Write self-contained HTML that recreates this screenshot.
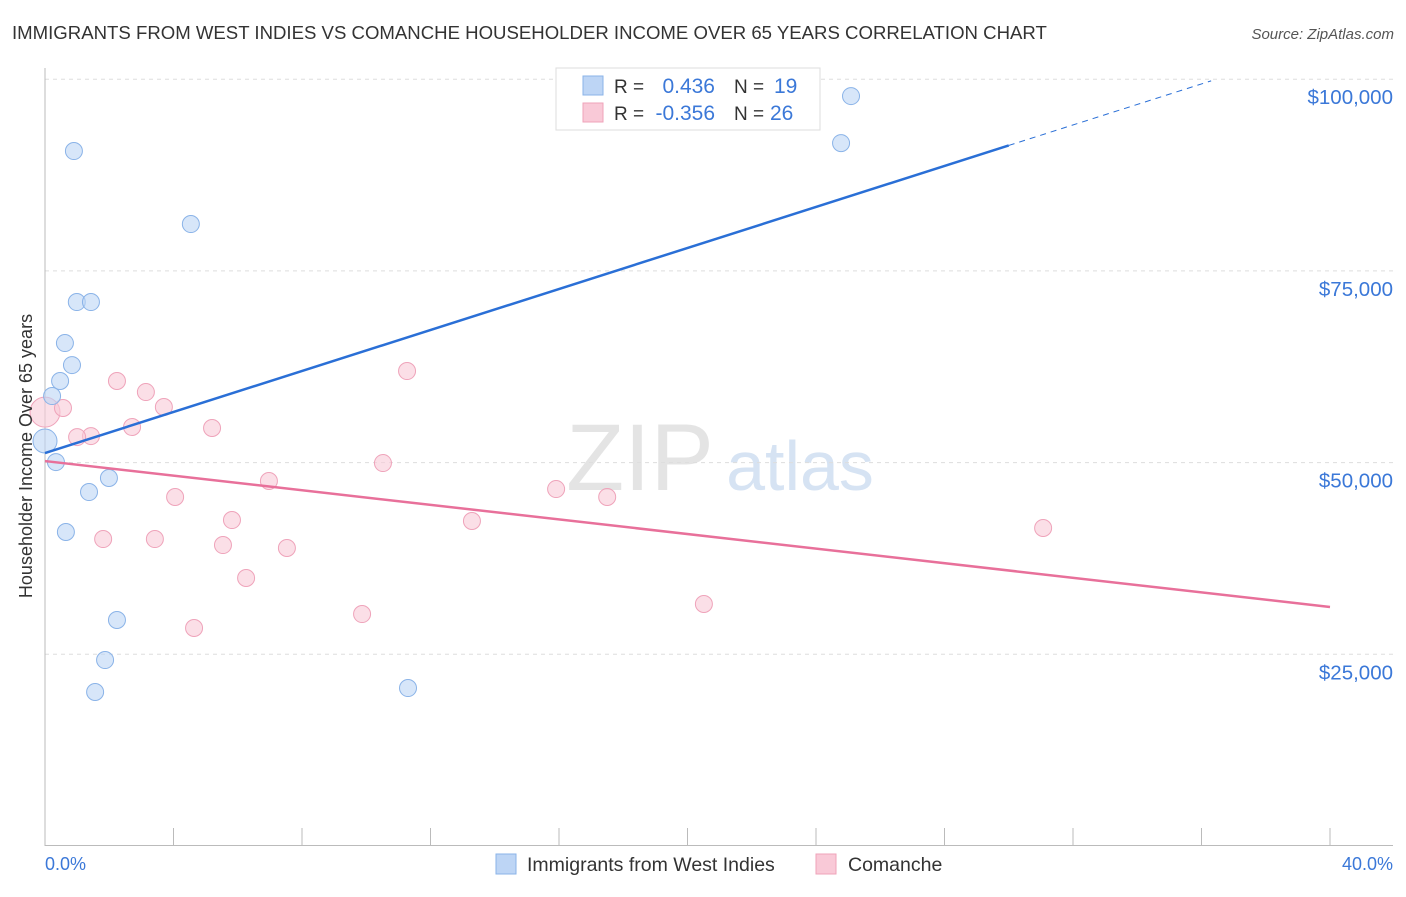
<!DOCTYPE html>
<html><head><meta charset="utf-8"><style>
body{margin:0;background:#fff;font-family:"Liberation Sans",sans-serif;}
svg text{font-family:"Liberation Sans",sans-serif;}
</style></head><body>
<svg id="chart" width="1406" height="892" viewBox="0 0 1406 892">
<text x="12" y="39" font-size="18.6" fill="#333">IMMIGRANTS FROM WEST INDIES VS COMANCHE HOUSEHOLDER INCOME OVER 65 YEARS CORRELATION CHART</text>
<text x="1394" y="39" font-size="15" fill="#555" font-style="italic" text-anchor="end">Source: ZipAtlas.com</text>
<text x="640" y="490" font-size="95" fill="#e4e4e4" font-family="Liberation Serif" text-anchor="middle">ZIP</text>
<text x="800" y="490" font-size="70" fill="#d6e3f3" text-anchor="middle">atlas</text>
<g id="grid"></g>
<g id="axes"></g>
<g id="marks"></g>
<text x="32" y="456" font-size="18" fill="#333" text-anchor="middle" transform="rotate(-90 32 456)">Householder Income Over 65 years</text>
<text x="45" y="870" font-size="18" fill="#3b78d8">0.0%</text>
<text x="1393" y="870" font-size="18" fill="#3b78d8" text-anchor="end">40.0%</text>
<g>
<rect x="556" y="68" width="264" height="62" fill="#fff" stroke="#ddd"/>
<rect x="583" y="76" width="20" height="19" fill="#bdd5f5" stroke="#8ab3e8"/>
<text x="614" y="93" font-size="19" fill="#333">R =</text>
<text x="715" y="93" font-size="21" fill="#3b78d8" text-anchor="end">0.436</text>
<text x="734" y="93" font-size="19" fill="#333">N =</text>
<text x="774" y="93" font-size="21" fill="#3b78d8">19</text>
<rect x="583" y="103" width="20" height="19" fill="#f9c9d7" stroke="#efa3ba"/>
<text x="614" y="120" font-size="19" fill="#333">R =</text>
<text x="715" y="120" font-size="21" fill="#3b78d8" text-anchor="end">-0.356</text>
<text x="734" y="120" font-size="19" fill="#333">N =</text>
<text x="770" y="120" font-size="21" fill="#3b78d8">26</text>
</g>
<g>
<rect x="496" y="854" width="20" height="20" fill="#bdd5f5" stroke="#8ab3e8"/>
<text x="527" y="871" font-size="19.5" fill="#333">Immigrants from West Indies</text>
<rect x="816" y="854" width="20" height="20" fill="#f9c9d7" stroke="#efa3ba"/>
<text x="848" y="871" font-size="19.5" fill="#333">Comanche</text>
</g>
</svg>
<script>
const yTicks=[25000,50000,75000,100000];
const yTickLabels=["$25,000","$50,000","$75,000","$100,000"];
const xTicks=[0,4,8,12,16,20,24,28,32,36,40];
const blueX=[0.90,4.54,0.99,1.43,0.62,0.84,0.47,0.22,0.0,0.34,1.37,1.99,0.65,2.24,1.87,1.56,11.30,25.09,24.78];
const blueY=[90630,81110,70940,70940,65590,62720,60640,58680,52810,50070,46160,47990,40950,29470,24250,20080,20600,97800,91670];
const pinkX=[0,0.56,2.24,3.14,3.70,2.71,1.43,1.0,5.20,4.05,6.97,5.82,1.81,3.42,5.54,7.53,6.26,4.64,9.87,11.27,10.52,13.29,15.91,17.50,20.51,31.07];
const pinkY=[56590,57120,60640,59200,57250,54640,53460,53330,54510,45510,47600,42510,40030,40030,39250,38860,34950,28430,30250,61940,49940,42380,46550,45510,31560,41470];
const blueTrend=[51250,1337];
const pinkTrend=[50200,-475.75];
const NS="http://www.w3.org/2000/svg";
const X=v=>45+v/40*1285;
const Y=v=>846-v/25000*191.7;
function mk(t,a,p){const e=document.createElementNS(NS,t);for(const k in a)e.setAttribute(k,a[k]);document.getElementById(p).appendChild(e);return e;}
yTicks.forEach((t,i)=>{
 const l=mk('line',{x1:45,x2:1393,y1:Y(t),y2:Y(t),stroke:'#ddd','stroke-dasharray':'4,4'},'grid');
 
 
 const tx=mk('text',{x:1393,y:Y(t)+25,'font-size':20.5,fill:'#3b78d8','text-anchor':'end'},'grid');
 tx.textContent=yTickLabels[i];
 
 
});
const ax=mk('line',{x1:45,x2:45,y1:68,y2:846,stroke:'#bbb'},'axes');


const bx=mk('line',{x1:45,x2:1393,y1:845.5,y2:845.5,stroke:'#bbb'},'axes');


xTicks.forEach(t=>{
 const l=mk('line',{x1:X(t),x2:X(t),y1:828,y2:846,stroke:'#bbb'},'axes');
 
 
});
pinkX.forEach((x,i)=>{
 const c=mk('circle',{cx:X(x),cy:Y(pinkY[i]),r:i===0?15:8.5,fill:'#f9c9d7','fill-opacity':0.6,stroke:'#efa3ba'},'marks');
 
 
});
blueX.forEach((x,i)=>{
 const c=mk('circle',{cx:X(x),cy:Y(blueY[i]),r:x===0?12:8.5,fill:'#bdd5f5','fill-opacity':0.6,stroke:'#8ab3e8'},'marks');
 
 
});
const bt=x=>blueTrend[0]+blueTrend[1]*x, pt=x=>pinkTrend[0]+pinkTrend[1]*x;
const l1=mk('line',{x1:X(0),y1:Y(bt(0)),x2:X(30),y2:Y(bt(30)),stroke:'#2a6fd6','stroke-width':2.5},'marks');


const l2=mk('line',{x1:X(30),y1:Y(bt(30)),x2:X(36.3),y2:Y(bt(36.3)),stroke:'#2a6fd6','stroke-width':1,'stroke-dasharray':'6,5'},'marks');


const l3=mk('line',{x1:X(0),y1:Y(pt(0)),x2:X(40),y2:Y(pt(40)),stroke:'#e8709a','stroke-width':2.5},'marks');


</script>
</body></html>
